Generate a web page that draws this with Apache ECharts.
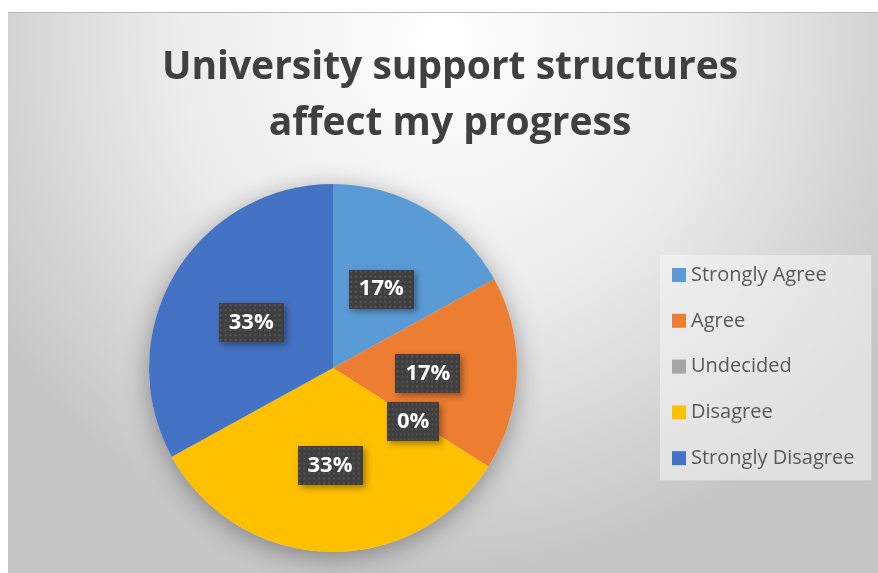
<!DOCTYPE html>
<html>
<head>
<meta charset="utf-8">
<script src="https://cdn.jsdelivr.net/npm/echarts@6/dist/echarts.min.js"></script>
<style>
  html, body { margin: 0; padding: 0; background: #ffffff; }
  #chart {
    position: absolute; left: 8px; top: 12px;
    width: 870px; height: 561px;
    border-top: 1px solid #b8b8b8;
    box-sizing: border-box;
  }
</style>
</head>
<body>
<div id="chart"></div>
<script>
// Survey answers for one statement, as shares of respondents (%)
const categories = ['Strongly Agree', 'Agree', 'Undecided', 'Disagree', 'Strongly Disagree'];
const shares = [17, 17, 0, 33, 33];
const sliceColors = ['#5B9BD5', '#ED7D31', '#A5A5A5', '#FFC000', '#4472C4'];
const titleLines = ['University support structures', 'affect my progress'];

// Dark dotted fill for the percentage tags
function dottedTile(w, h) {
  const c = document.createElement('canvas');
  c.width = w; c.height = h;
  const g = c.getContext('2d');
  g.fillStyle = '#3f3f3f';
  g.fillRect(0, 0, w, h);
  g.fillStyle = '#555555';
  for (let y = 1; y < h; y += 5) {
    for (let x = 1; x < w; x += 5) {
      g.fillRect(x, y, 2, 2);
    }
  }
  return c;
}
const tile = dottedTile(66, 39);

const chart = echarts.init(document.getElementById('chart'), null, { renderer: 'canvas' });

const pieCenter = [325, 355];
const pieRadius = 184;

chart.setOption({
  backgroundColor: {
    type: 'radial', x: 0.5, y: 0.05, r: 0.95,
    colorStops: [
      { offset: 0, color: '#ffffff' },
      { offset: 0.5, color: '#ececec' },
      { offset: 1, color: '#c6c6c6' }
    ]
  },
  title: {
    text: titleLines.join('\n'),
    left: 437, top: 22, textAlign: 'center',
    textStyle: {
      fontFamily: 'Open Sans', fontWeight: 'bold', fontSize: 39,
      lineHeight: 56, color: '#404040'
    }
  },
  legend: {
    orient: 'vertical',
    left: 652, top: 242,
    data: categories,
    backgroundColor: 'rgba(245,245,245,0.55)',
    padding: [10, 17, 12, 12],
    itemWidth: 14, itemHeight: 14, itemGap: 25.8,
    icon: 'rect',
    textStyle: { fontFamily: 'Open Sans', fontSize: 20, color: '#595959' },
    selectedMode: false
  },
  series: [
    {
      // soft drop shadow behind the pie
      type: 'pie', silent: true, z: 1,
      center: pieCenter, radius: pieRadius,
      label: { show: false }, labelLine: { show: false },
      itemStyle: {
        color: '#d8d8d8',
        shadowBlur: 26, shadowColor: 'rgba(0,0,0,0.35)', shadowOffsetY: 5
      },
      data: [{ value: 1, name: '' }]
    },
    {
      type: 'pie', z: 2,
      center: pieCenter, radius: pieRadius,
      startAngle: 90, clockwise: true,
      avoidLabelOverlap: false,
      label: {
        show: true, position: 'inside',
        offset: [0, 3],
        formatter: p => p.value + '%',
        fontFamily: 'Open Sans', fontWeight: 'bold', fontSize: 22, color: '#ffffff',
        backgroundColor: { image: tile },
        padding: [9, 10, 8, 10],
        shadowBlur: 6, shadowOffsetX: 3, shadowOffsetY: 3,
        shadowColor: 'rgba(0,0,0,0.35)'
      },
      labelLine: { show: false },
      emphasis: { disabled: true },
      data: categories.map((name, i) => ({
        name, value: shares[i], itemStyle: { color: sliceColors[i] }
      }))
    }
  ]
});
</script>
</body>
</html>
